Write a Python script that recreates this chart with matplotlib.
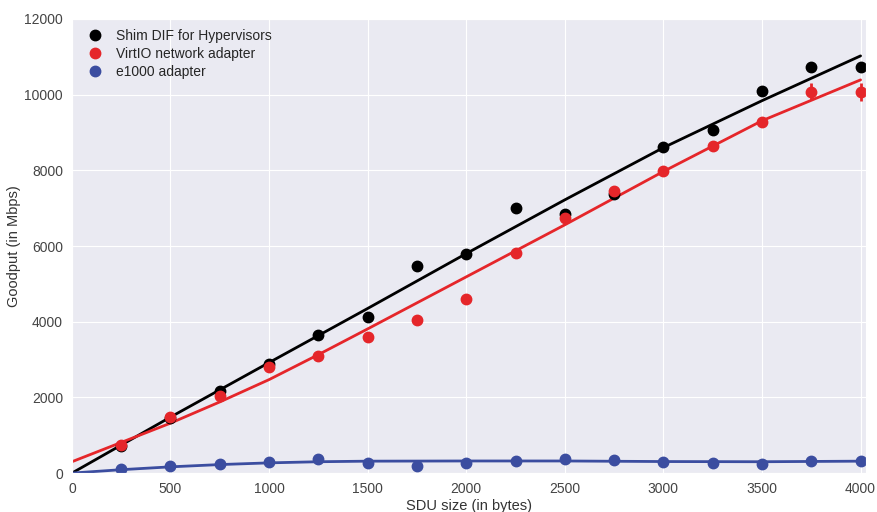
import matplotlib
matplotlib.use("Agg")
import matplotlib.pyplot as plt
import seaborn as sns

sns.set_style("darkgrid")
plt.rcParams["font.family"] = ["Liberation Sans", "DejaVu Sans"]

sdu = [250, 500, 750, 1000, 1250, 1500, 1750, 2000,
       2250, 2500, 2750, 3000, 3250, 3500, 3750, 4000]

shim = [720, 1460, 2170, 2880, 3660, 4115, 5460, 5780,
        7010, 6850, 7380, 8620, 9070, 10100, 10730, 10740]
virtio = [730, 1475, 2030, 2800, 3085, 3590, 4035, 4590,
          5810, 6750, 7445, 7990, 8650, 9280, 10080, 10080]
virtio_err = [60, 40, 40, 80, 30, 40, 30, 30,
              70, 80, 70, 60, 50, 40, 220, 240]
e1000 = [97, 185, 245, 298, 369, 272, 185, 272,
         325, 378, 335, 282, 263, 245, 325, 316]

# fitted curves
fit_x = [0, 250, 500, 750, 1000, 1250, 1500, 2000, 2500, 3000, 3500, 4000]
shim_fit = [0, 740, 1480, 2200, 2920, 3635, 4350, 5800, 7220, 8600, 9840, 11024]
virtio_fit = [300, 810, 1320, 1880, 2470, 3130, 3810, 5185, 6560, 7970, 9310, 10390]
e1000_fit_x = [0, 250, 500, 750, 1000, 1250, 1500, 2000, 2500, 3000, 3500, 4000]
e1000_fit = [0, 90, 165, 225, 270, 300, 315, 320, 320, 305, 300, 315]

BLACK = "#000000"
RED = "#e5262a"
BLUE = "#3b4da0"

fig = plt.figure(figsize=(8.77, 5.12), dpi=100)
ax = fig.add_axes([0.082, 0.076, 0.906, 0.887])

ax.plot(fit_x, shim_fit, color=BLACK, lw=2)
ax.plot(fit_x, virtio_fit, color=RED, lw=2)
ax.plot(e1000_fit_x, e1000_fit, color=BLUE, lw=2)

h1, = ax.plot(sdu, shim, "o", color=BLACK, ms=7.5, label="Shim DIF for Hypervisors")
ax.errorbar(sdu, virtio, yerr=virtio_err, fmt="none", ecolor=RED,
            elinewidth=2, capsize=0)
h2, = ax.plot(sdu, virtio, "o", color=RED, ms=7.5, label="VirtIO network adapter")
h3, = ax.plot(sdu, e1000, "o", color=BLUE, ms=7.5, label="e1000 adapter")

ax.set_xlim(0, 4030)
ax.set_ylim(0, 12000)
ax.set_xticks(range(0, 4001, 500))
ax.set_yticks(range(0, 12001, 2000))
ax.tick_params(labelsize=10, pad=3, length=3.5, colors="#444444")
ax.set_xlabel("SDU size (in bytes)", fontsize=10.5, color="#333333", labelpad=2)
ax.set_ylabel("Goodput (in Mbps)", fontsize=10.5, color="#333333", labelpad=2)

ax.legend(handles=[h1, h2, h3], loc="upper left", frameon=False, fontsize=10,
          handletextpad=0.6, labelspacing=0.3, borderaxespad=0.3,
          handlelength=1.9)

fig.savefig("out.png", dpi=100)
